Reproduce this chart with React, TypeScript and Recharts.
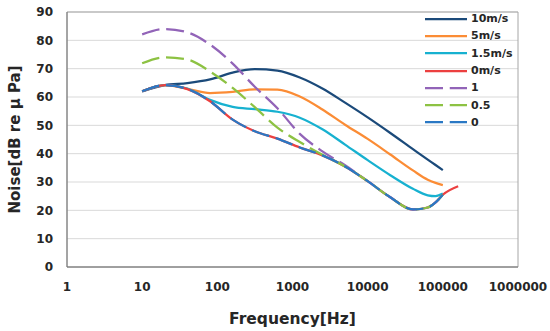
import { CartesianGrid, Legend, Line, LineChart, ReferenceArea, XAxis, YAxis } from "recharts";

// frequency points (Hz)
const freq = [10, 20, 40, 80, 160, 315, 630, 1250, 2500, 5000, 10000, 20000, 40000, 63000, 80000, 100000];
const freqCalm = [...freq, 160000];

const wind10 = [62, 64.2, 64.9, 66.2, 68.6, 69.8, 69.3, 66.9, 63.0, 58.0, 52.8, 47.3, 41.6, 37.9, 36.0, 34.2];
const wind5 = [62, 64.2, 62.9, 61.4, 61.8, 62.7, 62.6, 60.2, 55.6, 50.2, 45.2, 39.7, 34.1, 30.8, 29.7, 28.9];
const wind15 = [62, 64.2, 63, 59, 56.5, 55.7, 54.8, 52.7, 48.6, 43.2, 37.7, 32.4, 27.6, 25.3, 25.0, 25.9];
const wind0 = [62, 64.2, 62.8, 58.5, 52, 47.9, 45.3, 42.2, 39.4, 35.5, 30.3, 24.6, 20.3, 21.0, 22.8, 25.5, 28.5];
const model1 = [82.1, 84, 82.8, 78.5, 71.8, 63.6, 56, 47, 40.8, 35.9, 30.3, 24.6, 20.3, 21.0, 22.8, 25.5];
const model05 = [71.9, 74, 73.2, 69, 63.2, 56.4, 49.2, 44.1, 39.6, 35.5, 30.3, 24.6, 20.3, 21.0, 22.8, 25.5];
const model0 = [62, 64.2, 62.8, 58.5, 52, 47.9, 45.3, 42.2, 39.4, 35.5, 30.3, 24.6, 20.3, 21.0, 22.8, 25.5];

const xTicks = [1, 10, 100, 1000, 10000, 100000, 1000000];
const yTicks = [0, 10, 20, 30, 40, 50, 60, 70, 80, 90];

const FONT = "'DejaVu Sans', sans-serif";
const TEXT = "#262626";
const DASH = "18 6.75";

const toPoints = (xs: number[], ys: number[]) => ys.map((v, i) => ({ f: xs[i], v }));

const series = [
  { name: "10m/s", data: toPoints(freq, wind10), color: "#1b4a7a", dash: undefined },
  { name: "5m/s", data: toPoints(freq, wind5), color: "#fb8c35", dash: undefined },
  { name: "1.5m/s", data: toPoints(freq, wind15), color: "#17b1d0", dash: undefined },
  { name: "0m/s", data: toPoints(freqCalm, wind0), color: "#ec4040", dash: undefined },
  { name: "1", data: toPoints(freq, model1), color: "#9264b8", dash: DASH },
  { name: "0.5", data: toPoints(freq, model05), color: "#8dc243", dash: DASH },
  { name: "0", data: toPoints(freq, model0), color: "#2a78c4", dash: DASH },
];

function LegendBox() {
  return (
    <div style={{ fontFamily: FONT, fontWeight: "bold", fontSize: 11, color: TEXT }}>
      {series.map((s) => (
        <div key={s.name} style={{ display: "flex", alignItems: "center", height: 17.3 }}>
          <svg width={44} height={4} style={{ display: "block" }}>
            <line x1={0} y1={2} x2={42} y2={2} stroke={s.color} strokeWidth={2.25} strokeDasharray={s.dash} />
          </svg>
          <span style={{ marginLeft: 2, lineHeight: "17px" }}>{s.name}</span>
        </div>
      ))}
    </div>
  );
}

export default function App() {
  return (
    <div style={{ position: "absolute", left: 0, top: 0 }}>
      <LineChart width={550} height={331} margin={{ top: 12, right: 32, bottom: 34, left: 0 }}>
        <CartesianGrid vertical={false} stroke="#d9d9d9" strokeWidth={1} />
        <ReferenceArea x1={1} x2={1000000} y1={0} y2={90} fill="none" stroke="#a6a6a6" strokeWidth={1} />
        <XAxis
          type="number"
          dataKey="f"
          scale="log"
          domain={[1, 1000000]}
          ticks={xTicks}
          interval={0}
          allowDataOverflow
          tickLine={false}
          tickSize={0}
          tickMargin={15}
          height={30}
          axisLine={{ stroke: "#767676" }}
          tick={{ fontFamily: FONT, fontSize: 12, fontWeight: "bold", fill: TEXT }}
          label={{
            value: "Frequency[Hz]",
            position: "bottom",
            offset: 16,
            style: { fontFamily: FONT, fontSize: 15.5, fontWeight: "bold", fill: TEXT },
          }}
        />
        <YAxis
          type="number"
          domain={[0, 90]}
          ticks={yTicks}
          interval={0}
          width={67}
          tickLine={false}
          tickSize={0}
          tickMargin={14}
          axisLine={{ stroke: "#767676" }}
          tick={{ fontFamily: FONT, fontSize: 12, fontWeight: "bold", fill: TEXT }}
          label={{
            content: (props: any) => {
              const vb = props.viewBox || { x: 0, y: 12, height: 255 };
              const cx = vb.x + 15;
              const cy = vb.y + vb.height / 2;
              return (
                <text
                  x={cx}
                  y={cy}
                  transform={`rotate(-90 ${cx} ${cy})`}
                  textAnchor="middle"
                  dominantBaseline="central"
                  style={{ fontFamily: FONT, fontSize: 15, fontWeight: "bold", fill: TEXT }}
                >
                  Noise[dB re μ Pa]
                </text>
              );
            },
          }}
        />
        <Legend
          layout="vertical"
          align="center"
          verticalAlign="middle"
          content={() => <LegendBox />}
          wrapperStyle={{ left: 425, top: 10, width: 110, height: 125 }}
        />
        {series.map((s) => (
          <Line
            key={s.name}
            data={s.data}
            dataKey="v"
            name={s.name}
            type="monotone"
            stroke={s.color}
            strokeWidth={2.25}
            strokeDasharray={s.dash}
            dot={false}
            activeDot={false}
            isAnimationActive={false}
          />
        ))}
      </LineChart>
    </div>
  );
}
